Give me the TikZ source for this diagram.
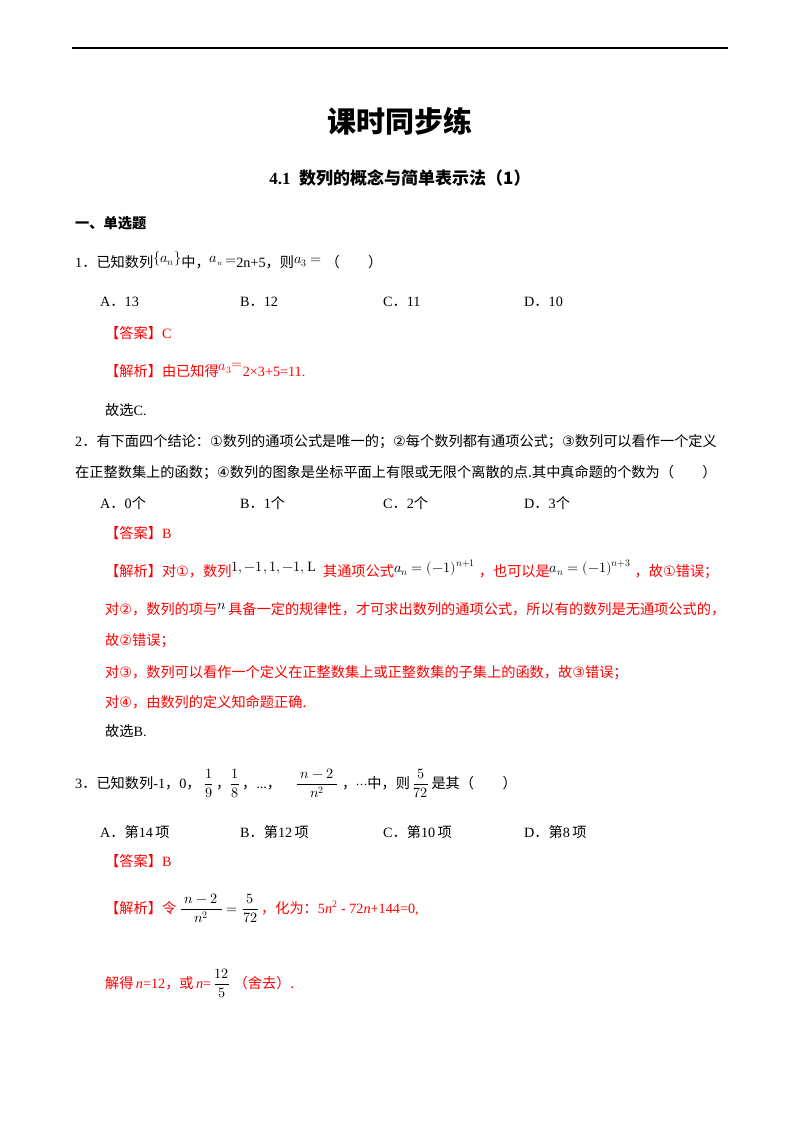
\documentclass[tikz,border=0pt]{standalone}
\usepackage{amsmath}
\usepackage{fontspec}
\usepackage{unicode-math}
\setmainfont{Liberation Serif}
\setmathfont{Latin Modern Math}
\newfontfamily\cjk{Noto Sans CJK SC}
\newfontfamily\sym{DejaVu Sans}
\definecolor{ans}{RGB}{255,0,0}
\newcommand{\zh}[1]{{\cjk #1}}
\newcommand{\dt}{{\cjk ．}}
\begin{document}
\begin{tikzpicture}[x=1pt,y=-1pt,
  t/.style={anchor=base west,inner sep=0pt,font=\fontsize{14.2}{17}\selectfont},
  r/.style={t,text=ans}]
\useasboundingbox (0,0) rectangle (800,1132);
\fill[white] (0,0) rectangle (800,1132);
\draw[line width=1.5pt] (72,48) -- (728,48);
\node[anchor=base,inner sep=0pt,font=\fontsize{29}{32}\selectfont\bfseries\cjk] (title) at (400,132) {课时同步练};
\node[anchor=base,inner sep=0pt,font=\fontsize{17}{20}\selectfont] (sub) at (400,184) {\textbf{4.1}\ \ \zh{\textbf{数列的概念与简单表示法（1）}}};
\node[t,font=\fontsize{14.2}{16}\selectfont\bfseries\cjk] (sec) at (75,228) {一、单选题};
% Q1
\node[t] (q1) at (75,267) {1\dt\zh{已知数列}\raisebox{5pt}{$\{a_n\}$}\zh{中，}\raisebox{5pt}{$a_{\scriptscriptstyle n}$}\,\raisebox{3pt}{$=$}2n+5\zh{，则}\raisebox{4pt}{$a_3=$}\ \zh{（\qquad）}};
\node[t] (q1a) at (100,306) {A\dt 13};
\node[t] (q1b) at (240,306) {B\dt 12};
\node[t] (q1c) at (383,306) {C\dt 11};
\node[t] (q1d) at (524,306) {D\dt 10};
\node[r] (q1ans) at (105,338) {\zh{【答案】}C};
\node[r] (q1sol) at (105,376) {\zh{【解析】由已知得}\raisebox{6pt}{$a_3$}\raisebox{8pt}{$=$}2×3+5=11.};
\node[t] (q1end) at (105,415) {\zh{故选}C.};
% Q2
\node[t] (q2) at (75,446) {2\dt\zh{有下面四个结论：{\sym①}数列的通项公式是唯一的；{\sym②}每个数列都有通项公式；{\sym③}数列可以看作一个定义}};
\node[t] (q2l2) at (75,477) {\zh{在正整数集上的函数；{\sym④}数列的图象是坐标平面上有限或无限个离散的点.其中真命题的个数为（\qquad）}};
\node[t] (q2a) at (100,508) {A\dt 0\zh{个}};
\node[t] (q2b) at (240,508) {B\dt 1\zh{个}};
\node[t] (q2c) at (383,508) {C\dt 2\zh{个}};
\node[t] (q2d) at (524,508) {D\dt 3\zh{个}};
\node[r] (q2ans) at (105,538) {\zh{【答案】}B};
\node[r] (q2sol) at (105,576) {\zh{【解析】对{\sym①}，数列}\raisebox{5pt}{\textcolor{black}{$1,-1,1,-1,\mathrm{L}$}}\ \ \zh{其通项公式}\raisebox{4pt}{\textcolor{black}{$a_n=(-1)^{n+1}$}}\ \zh{，也可以是}\raisebox{4pt}{\textcolor{black}{$a_n=(-1)^{n+3}$}}\ \zh{，故{\sym①}错误；}};
\node[r] (q2s2) at (105,614) {\zh{对{\sym②}，数列的项与}\raisebox{5pt}{\textcolor{black}{$n$}}\,\zh{具备一定的规律性，才可求出数列的通项公式，所以有的数列是无通项公式的，}};
\node[r] (q2s3) at (105,645) {\zh{故{\sym②}错误；}};
\node[r] (q2s4) at (105,677) {\zh{对{\sym③}，数列可以看作一个定义在正整数集上或正整数集的子集上的函数，故{\sym③}错误；}};
\node[r] (q2s5) at (105,707) {\zh{对{\sym④}，由数列的定义知命题正确.}};
\node[t] (q2end) at (105,736) {\zh{故选}B.};
% Q3
\node[t] (q3) at (75,788) {3\dt\zh{已知数列}-1\zh{，}0\zh{，}\ $\dfrac{1}{9}$\,\zh{，}$\dfrac{1}{8}$\,\zh{，}...\zh{，}\quad$\dfrac{\;n-2\;}{n^2}$\ \zh{，}$\cdots$\zh{中，则}\,$\dfrac{5}{72}$\,\zh{是其（\qquad）}};
\node[t] (q3a) at (100,837) {A\dt\zh{第}14\,\zh{项}};
\node[t] (q3b) at (240,837) {B\dt\zh{第}12\,\zh{项}};
\node[t] (q3c) at (383,837) {C\dt\zh{第}10\,\zh{项}};
\node[t] (q3d) at (524,837) {D\dt\zh{第}8\,\zh{项}};
\node[r] (q3ans) at (105,866) {\zh{【答案】}B};
\node[r] (q3sol) at (105,913) {\zh{【解析】令}\ \textcolor{black}{$\dfrac{\;n-2\;}{n^2}=\dfrac{5}{72}$}\,\zh{，化为：}5\textit{n}\textsuperscript{2} - 72\textit{n}+144=0,};
\node[r] (q3s2) at (105,988) {\zh{解得}\,\textit{n}=12\zh{，或}\,\textit{n}=\,\textcolor{black}{$\dfrac{12}{5}$}\ \zh{（舍去）.}};
\end{tikzpicture}
\end{document}
